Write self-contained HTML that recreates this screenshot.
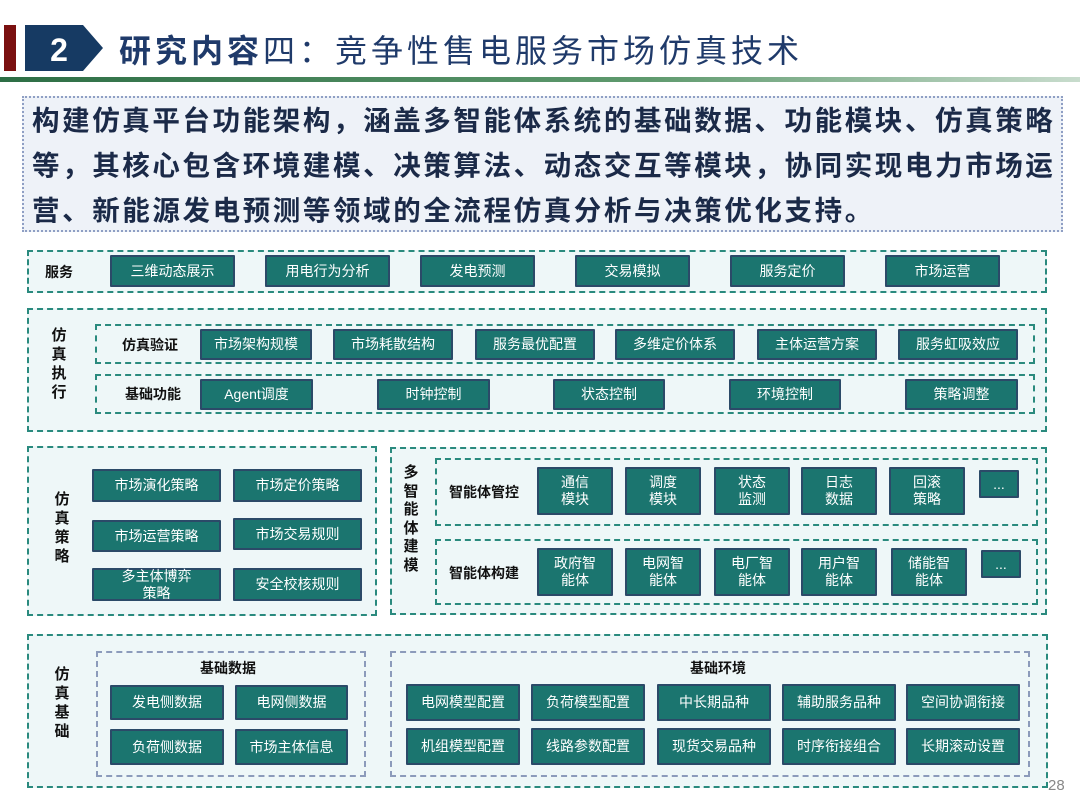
<!DOCTYPE html>
<html><head><meta charset="utf-8"><style>
*{margin:0;padding:0;box-sizing:border-box}
body{width:1080px;height:810px;background:#fff;position:relative;overflow:hidden;font-family:"Liberation Sans","Noto Sans CJK SC",sans-serif}
.a{position:absolute}
.p{position:absolute;background:#eef7f8;border:2px dashed #2a8a7e}
.d{position:absolute;border:2px dashed #2a8a7e}
.g{position:absolute;border:2px dashed #8c9bbb}
.b{position:absolute;background:#1b756f;border:2px solid #2b4a68;color:#fff;font-size:14px;display:flex;align-items:center;justify-content:center;text-align:center;line-height:17px;border-radius:1px}
.l{position:absolute;font-size:14px;font-weight:bold;color:#111;white-space:nowrap}
.v{position:absolute;font-size:15px;font-weight:bold;color:#111;width:18px;line-height:19px;text-align:center}
</style></head><body>
<div class="a" style="left:4px;top:25px;width:12px;height:46px;background:#7a1010"></div>
<svg class="a" style="left:25px;top:25px" width="80" height="46"><polygon points="0,0 58,0 78,23 58,46 0,46" fill="#163a63"/><text x="34" y="36" fill="#fff" font-size="32" font-weight="bold" font-family="Liberation Sans" text-anchor="middle">2</text></svg>
<div class="a" style="left:119px;top:26px;font-size:32px;color:#1f3a6a;white-space:nowrap;letter-spacing:4px"><b>研究内容</b>四：竞争性售电服务市场仿真技术</div>
<div class="a" style="left:0;top:77px;width:1080px;height:5px;background:linear-gradient(90deg,#2d6e45,#5f9a6e 60%,#c8dccd)"></div>
<div class="a" style="left:22px;top:96px;width:1041px;height:136px;background:#eef2f8;border:2px dotted #8f9fc4"></div>
<div class="a" style="left:32px;top:98px;width:1035px;font-size:27.5px;font-weight:bold;color:#1b2a48;line-height:45px;letter-spacing:2.6px">构建仿真平台功能架构，涵盖多智能体系统的基础数据、功能模块、仿真策略等，其核心包含环境建模、决策算法、动态交互等模块，协同实现电力市场运营、新能源发电预测等领域的全流程仿真分析与决策优化支持。</div>

<!-- 服务 -->
<div class="p" style="left:27px;top:250px;width:1020px;height:43px"></div>
<div class="l" style="left:45px;top:262px">服务</div>
<div class="b" style="left:110px;top:255px;width:125px;height:32px">三维动态展示</div>
<div class="b" style="left:265px;top:255px;width:125px;height:32px">用电行为分析</div>
<div class="b" style="left:420px;top:255px;width:115px;height:32px">发电预测</div>
<div class="b" style="left:575px;top:255px;width:115px;height:32px">交易模拟</div>
<div class="b" style="left:730px;top:255px;width:115px;height:32px">服务定价</div>
<div class="b" style="left:885px;top:255px;width:115px;height:32px">市场运营</div>

<!-- 仿真执行 -->
<div class="p" style="left:27px;top:308px;width:1020px;height:124px"></div>
<div class="v" style="left:50px;top:326px">仿真执行</div>
<div class="d" style="left:95px;top:324px;width:940px;height:40px"></div>
<div class="d" style="left:95px;top:374px;width:940px;height:40px"></div>
<div class="l" style="left:122px;top:335px">仿真验证</div>
<div class="l" style="left:125px;top:384px">基础功能</div>
<div class="b" style="left:200px;top:329px;width:112px;height:31px">市场架构规模</div>
<div class="b" style="left:333px;top:329px;width:120px;height:31px">市场耗散结构</div>
<div class="b" style="left:475px;top:329px;width:120px;height:31px">服务最优配置</div>
<div class="b" style="left:615px;top:329px;width:120px;height:31px">多维定价体系</div>
<div class="b" style="left:757px;top:329px;width:120px;height:31px">主体运营方案</div>
<div class="b" style="left:898px;top:329px;width:120px;height:31px">服务虹吸效应</div>
<div class="b" style="left:200px;top:379px;width:113px;height:31px">Agent调度</div>
<div class="b" style="left:377px;top:379px;width:113px;height:31px">时钟控制</div>
<div class="b" style="left:553px;top:379px;width:112px;height:31px">状态控制</div>
<div class="b" style="left:729px;top:379px;width:112px;height:31px">环境控制</div>
<div class="b" style="left:905px;top:379px;width:113px;height:31px">策略调整</div>

<!-- 仿真策略 -->
<div class="p" style="left:27px;top:446px;width:350px;height:170px"></div>
<div class="v" style="left:53px;top:490px">仿真策略</div>
<div class="b" style="left:92px;top:469px;width:129px;height:33px">市场演化策略</div>
<div class="b" style="left:233px;top:469px;width:129px;height:33px">市场定价策略</div>
<div class="b" style="left:92px;top:520px;width:129px;height:32px">市场运营策略</div>
<div class="b" style="left:233px;top:518px;width:129px;height:32px">市场交易规则</div>
<div class="b" style="left:92px;top:568px;width:129px;height:33px">多主体博弈<br>策略</div>
<div class="b" style="left:233px;top:568px;width:129px;height:33px">安全校核规则</div>

<!-- 多智能体建模 -->
<div class="p" style="left:390px;top:447px;width:657px;height:168px"></div>
<div class="v" style="left:402px;top:464px;line-height:18.5px">多智能体建模</div>
<div class="d" style="left:435px;top:458px;width:603px;height:68px"></div>
<div class="d" style="left:435px;top:539px;width:603px;height:66px"></div>
<div class="l" style="left:449px;top:482px">智能体管控</div>
<div class="l" style="left:449px;top:563px">智能体构建</div>
<div class="b" style="left:537px;top:467px;width:76px;height:48px">通信<br>模块</div>
<div class="b" style="left:625px;top:467px;width:76px;height:48px">调度<br>模块</div>
<div class="b" style="left:714px;top:467px;width:76px;height:48px">状态<br>监测</div>
<div class="b" style="left:801px;top:467px;width:76px;height:48px">日志<br>数据</div>
<div class="b" style="left:889px;top:467px;width:76px;height:48px">回滚<br>策略</div>
<div class="b" style="left:979px;top:470px;width:40px;height:28px">...</div>
<div class="b" style="left:537px;top:548px;width:76px;height:48px">政府智<br>能体</div>
<div class="b" style="left:625px;top:548px;width:76px;height:48px">电网智<br>能体</div>
<div class="b" style="left:714px;top:548px;width:76px;height:48px">电厂智<br>能体</div>
<div class="b" style="left:801px;top:548px;width:76px;height:48px">用户智<br>能体</div>
<div class="b" style="left:891px;top:548px;width:76px;height:48px">储能智<br>能体</div>
<div class="b" style="left:981px;top:550px;width:40px;height:28px">...</div>

<!-- 仿真基础 -->
<div class="p" style="left:27px;top:634px;width:1021px;height:154px"></div>
<div class="v" style="left:53px;top:665px">仿真基础</div>
<div class="g" style="left:96px;top:651px;width:270px;height:126px"></div>
<div class="g" style="left:390px;top:651px;width:640px;height:126px"></div>
<div class="l" style="left:200px;top:658px">基础数据</div>
<div class="l" style="left:690px;top:658px">基础环境</div>
<div class="b" style="left:110px;top:685px;width:114px;height:35px">发电侧数据</div>
<div class="b" style="left:235px;top:685px;width:113px;height:35px">电网侧数据</div>
<div class="b" style="left:110px;top:729px;width:114px;height:36px">负荷侧数据</div>
<div class="b" style="left:235px;top:729px;width:113px;height:36px">市场主体信息</div>
<div class="b" style="left:406px;top:684px;width:114px;height:37px">电网模型配置</div>
<div class="b" style="left:531px;top:684px;width:114px;height:37px">负荷模型配置</div>
<div class="b" style="left:657px;top:684px;width:114px;height:37px">中长期品种</div>
<div class="b" style="left:782px;top:684px;width:114px;height:37px">辅助服务品种</div>
<div class="b" style="left:906px;top:684px;width:114px;height:37px">空间协调衔接</div>
<div class="b" style="left:406px;top:728px;width:114px;height:37px">机组模型配置</div>
<div class="b" style="left:531px;top:728px;width:114px;height:37px">线路参数配置</div>
<div class="b" style="left:657px;top:728px;width:114px;height:37px">现货交易品种</div>
<div class="b" style="left:782px;top:728px;width:114px;height:37px">时序衔接组合</div>
<div class="b" style="left:906px;top:728px;width:114px;height:37px">长期滚动设置</div>
<div class="a" style="left:1048px;top:777px;font-size:15px;color:#888">28</div>
</body></html>
